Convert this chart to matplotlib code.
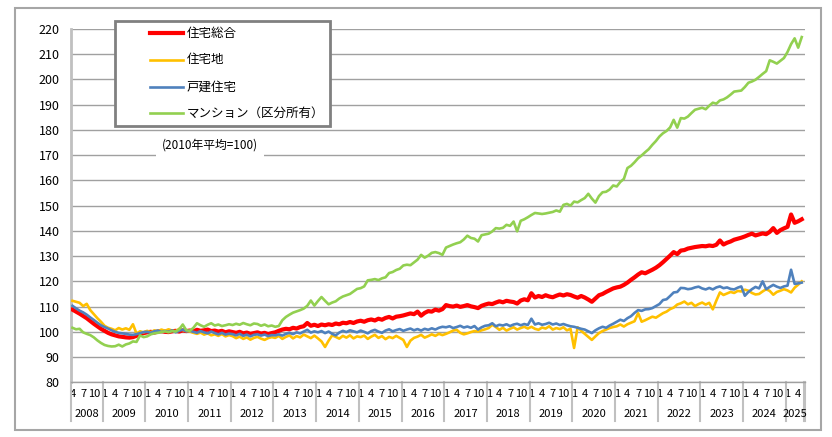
import matplotlib
matplotlib.use("Agg")
import matplotlib.pyplot as plt
from matplotlib.lines import Line2D
from matplotlib.patches import Rectangle
import matplotlib.transforms as mtransforms
import pandas as pd

plt.rcParams['font.family'] = ['Noto Sans CJK JP', 'DejaVu Sans']

# monthly index, 2010 average = 100 (Apr 2008 - May 2025)
months = pd.period_range('2008-04', '2025-05', freq='M')

sogo = [  # 住宅総合
    108.8, 108.0, 107.2, 106.3, 105.4, 104.3, 103.2, 102.2, 101.2,
    100.4, 99.6, 99.0, 98.6, 98.2, 98.0, 97.8, 97.7, 97.9, 98.4, 99.0, 99.5,
    99.8, 100.0, 99.7, 100.1, 100.3, 100.0, 99.9, 100.2, 100.4, 100.1, 100.6, 100.3,
    100.5, 100.2, 100.8, 100.4, 100.6, 100.9, 100.3, 100.5, 100.1, 100.4, 99.8, 100.2,
    99.9, 99.6, 100.0, 99.4, 99.7, 99.2, 99.5, 99.8, 99.3, 99.6, 99.1, 99.5,
    99.8, 100.4, 100.9, 101.2, 101.0, 101.6, 101.3, 101.9, 102.2, 103.5, 102.4, 102.8,
    102.3, 102.9, 102.6, 103.0, 102.7, 103.3, 103.0, 103.6, 103.4, 103.9, 103.5, 104.1,
    104.4, 104.0, 104.6, 104.9, 104.5, 105.2, 104.8, 105.5, 105.9, 105.3, 106.0, 106.2,
    106.5, 106.9, 107.3, 107.0, 108.0, 106.4, 107.5, 108.2, 108.0, 108.8, 108.4, 109.0,
    110.6, 110.2, 110.0, 110.4, 109.9, 110.2, 110.6, 110.1, 109.8, 109.4, 110.3, 110.8,
    111.2, 111.0, 111.6, 112.1, 111.7, 112.3, 112.0, 111.8, 111.2, 112.4, 112.9, 112.5,
    115.3, 113.6, 114.2, 113.8, 114.5, 114.0, 113.7, 114.3, 114.8, 114.4, 114.9, 114.6,
    114.0, 113.5, 114.2, 113.6, 112.8, 111.9, 113.2, 114.5, 115.0, 115.8, 116.5, 117.2,
    117.6, 117.9, 118.6, 119.5, 120.6, 121.6, 122.7, 123.6, 123.2, 123.9, 124.6, 125.4,
    126.4, 127.6, 128.9, 130.2, 131.6, 130.8, 132.2, 132.4, 133.0, 133.3, 133.6, 133.8,
    134.0, 133.9, 134.2, 134.0, 134.5, 136.2, 134.6, 135.3, 135.8, 136.5, 136.9, 137.3,
    137.8, 138.4, 138.9, 138.2, 138.6, 139.0, 138.7, 139.6, 141.1, 139.2, 140.3, 141.0,
    141.6, 146.5, 143.2, 143.8, 144.6,
]

takuchi = [  # 住宅地
    112.3, 111.9, 111.5, 110.2, 111.1, 108.6, 107.0, 105.4, 104.0,
    102.4, 101.6, 101.2, 100.6, 101.5, 100.9, 101.4, 100.8, 103.0, 99.3, 100.2, 99.8,
    100.4, 99.8, 100.6, 100.2, 100.9, 100.4, 101.0, 100.5, 100.2, 101.2, 100.7, 100.3,
    100.1, 99.6, 99.2, 99.7, 98.9, 99.4, 98.6, 99.0, 98.4, 99.1, 98.2, 98.7,
    98.3, 97.5, 98.1, 97.2, 97.8, 96.9, 97.6, 98.0, 97.3, 96.8, 97.5, 97.9,
    97.6, 98.4, 97.2, 98.0, 98.6, 97.4, 98.3, 97.8, 98.9, 98.2, 97.5, 98.5,
    97.4, 96.2, 94.0, 96.5, 98.6, 98.0, 97.3, 98.4, 97.7, 98.6, 97.4, 98.2,
    97.9, 98.5, 97.2, 98.1, 98.8, 97.6, 98.3, 97.1, 98.0, 97.5, 98.4, 97.6,
    96.8, 94.0, 96.5, 97.6, 98.1, 98.8, 97.7, 98.3, 99.0, 98.4, 99.2, 98.7,
    99.2, 99.8, 100.5, 100.8, 99.6, 99.0, 99.4, 99.9, 100.3, 100.1, 100.6, 101.0,
    101.5, 102.8, 101.9, 100.8, 101.6, 100.5, 101.2, 101.8, 100.9, 101.5, 102.0, 101.3,
    102.0, 101.2, 100.8, 101.7, 101.3, 102.2, 100.9, 101.5, 101.1, 101.8, 100.6, 101.2,
    93.6, 101.8, 100.4, 99.2, 98.0, 96.8, 98.2, 99.5, 100.3, 100.9, 101.5, 101.9,
    102.2, 102.9, 102.1, 103.0, 103.6, 104.2, 107.4, 104.0, 104.6, 105.3, 106.0, 105.6,
    106.5, 107.4, 108.0, 109.0, 109.6, 110.8, 111.3, 112.0, 110.9, 111.5, 110.2, 111.0,
    111.6, 110.8, 111.5, 108.9, 112.4, 115.6, 114.6, 115.2, 115.8, 115.4, 116.2, 116.0,
    116.7, 116.3, 115.4, 114.8, 115.0, 116.0, 116.9, 116.2, 114.7, 115.8, 116.3, 116.9,
    116.4, 115.6, 117.5, 118.7, 120.0,
]

kodate = [  # 戸建住宅
    110.3, 109.3, 108.4, 107.7, 106.8, 105.7, 104.7, 103.6, 102.6,
    101.9, 101.3, 100.6, 100.0, 99.6, 99.4, 99.2, 98.9, 98.8, 99.1, 99.5, 99.9,
    100.0, 99.6, 100.2, 100.5, 99.9, 100.3, 100.0, 100.6, 99.8, 100.4, 100.9, 100.2,
    100.4, 100.0, 99.6, 100.3, 99.8, 99.4, 100.1, 99.5, 99.0, 99.6, 98.9, 99.3,
    99.1, 98.6, 99.2, 98.4, 98.9, 98.2, 98.8, 99.0, 98.5, 98.9, 98.3, 98.7,
    98.6, 99.0, 98.5, 99.2, 99.6, 99.1, 99.8, 99.4, 100.1, 100.8, 99.7, 100.2,
    99.8, 100.3, 99.5, 100.1, 99.2, 98.6, 99.7, 100.4, 99.9, 100.6, 100.2, 99.8,
    100.5, 100.0, 99.4, 100.3, 100.8, 100.1, 99.6, 100.5, 101.0, 100.2, 100.7, 101.1,
    100.4, 100.9, 101.3, 100.6, 101.1, 100.5, 101.2, 100.8, 101.4, 100.9, 101.6, 102.0,
    101.8, 102.2, 101.5, 101.9, 102.4, 101.7, 102.1, 101.6, 102.3, 100.9, 101.8, 102.4,
    102.6, 103.4, 102.2, 102.8, 102.5, 103.0, 102.3, 102.9, 103.2, 102.6, 103.1, 102.7,
    105.2, 102.9, 103.4, 102.8, 103.1, 103.6, 102.9, 103.3, 102.7, 103.1, 102.6, 102.2,
    102.0, 101.6, 101.2, 100.9, 100.2, 99.5, 100.6, 101.4, 102.0, 101.6, 102.5, 103.2,
    104.0, 104.8, 104.3, 105.4, 106.2, 107.5, 108.6, 108.3, 108.9, 109.0, 109.4, 110.2,
    111.0, 112.6, 112.9, 114.2, 115.6, 115.8, 117.4, 117.3, 116.9, 117.1, 117.6, 117.9,
    117.2, 116.8, 117.4, 116.8, 117.6, 118.0, 117.3, 117.6, 117.0, 116.8, 117.5, 118.0,
    114.3, 115.8, 116.9, 117.8, 117.2, 120.0, 116.9, 117.8, 118.6, 117.9, 117.4, 118.0,
    118.3, 124.6, 119.0, 119.2, 119.5,
]

mansion = [  # マンション（区分所有）
    101.6, 101.0, 101.2, 99.8, 99.2, 98.7, 97.8, 96.6, 95.6,
    94.8, 94.4, 94.2, 94.3, 94.9, 94.2, 95.0, 95.4, 96.2, 96.0, 98.6, 97.9,
    98.2, 99.0, 99.4, 99.6, 99.9, 100.2, 99.8, 100.3, 100.1, 101.0, 102.9, 100.6,
    100.4, 101.6, 103.4, 102.6, 102.0, 102.8, 103.4, 102.5, 102.9, 102.3, 102.6, 103.0,
    102.7, 103.2, 102.8, 103.5, 103.0, 102.6, 103.3, 103.1, 102.4, 102.9, 102.2, 102.5,
    102.0, 102.3, 104.6, 105.9, 106.8, 107.6, 108.1, 108.6, 109.2, 110.3, 112.4, 110.4,
    112.2, 113.8, 112.3, 110.9, 111.6, 112.1, 113.2, 114.0, 114.5, 115.0, 116.0, 117.0,
    117.3, 118.0, 120.4, 120.6, 120.9, 120.5, 121.2, 121.6, 123.3, 123.7, 124.5, 125.0,
    126.3, 126.6, 126.4, 127.5, 128.6, 130.5, 129.4, 130.2, 131.3, 131.6, 131.2, 130.5,
    133.4, 134.0, 134.6, 135.1, 135.5, 136.6, 138.1, 137.2, 136.9, 135.8, 138.3, 138.6,
    138.9, 139.8, 141.1, 140.9, 141.2, 142.4, 142.0, 143.7, 139.8, 144.0, 144.6, 145.4,
    146.3, 147.1, 146.9, 146.7, 146.9, 147.2, 147.5, 148.1, 147.6, 150.3, 150.7, 150.0,
    151.6, 151.3, 152.2, 153.0, 154.7, 152.8, 151.2, 153.8, 155.3, 155.5, 156.4, 158.0,
    157.6, 159.4, 160.6, 164.9, 165.8, 167.2, 168.8, 169.9, 171.2, 172.4, 174.1, 175.6,
    177.4, 178.7, 179.6, 181.0, 184.0, 180.9, 184.7, 184.5, 185.3, 186.7, 188.0, 188.4,
    188.8, 188.2, 189.6, 190.8, 190.4, 191.7, 192.1, 192.9, 194.0, 195.2, 195.4, 195.6,
    197.0, 198.7, 199.2, 199.9, 201.0, 202.2, 203.3, 207.6, 207.0, 206.3, 207.4, 208.5,
    210.9, 214.0, 216.3, 212.6, 216.8,
]

labels = ['住宅総合', '住宅地', '戸建住宅', 'マンション（区分所有）']
colors = ['#ff0000', '#ffc000', '#4f81bd', '#92d050']
widths = [3.0, 1.9, 1.9, 1.9]

W, H = 832, 437


def fx(x):
    return x / W


def fy(y):
    return 1 - y / H


fig = plt.figure(figsize=(W / 100, H / 100), dpi=100)
ax = fig.add_axes([fx(70.7), fy(382.3), (805.3 - 70.7) / W, (382.3 - 29) / H])

x = list(range(len(months)))
for vals, col, lw in zip([sogo, takuchi, kodate, mansion], colors, widths):
    ax.plot(x, vals, color=col, lw=lw, solid_joinstyle='round', zorder=3)

ax.set_ylim(80, 220)
ax.set_xlim(-0.5, 206)
ax.set_yticks(range(80, 221, 10))
ax.yaxis.grid(True, color='#a0a0a0', lw=1)
ax.set_axisbelow(True)
ax.tick_params(axis='y', length=0, pad=8, labelsize=9)
for s in ['top', 'right']:
    ax.spines[s].set_visible(False)
ax.spines['left'].set_color('#c0c0c0')
ax.spines['left'].set_linewidth(2)
ax.spines['bottom'].set_color('#a0a0a0')
ax.spines['bottom'].set_linewidth(1)

# month ticks (1, 4, 7, 10) and year groups
tick_pos = [i for i, m in enumerate(months) if m.month in (1, 4, 7, 10)]
ax.set_xticks(tick_pos)
ax.set_xticklabels([str(months[i].month) for i in tick_pos])
ax.tick_params(axis='x', length=0, pad=5, labelsize=8)

trans = mtransforms.blended_transform_factory(ax.transData, ax.transAxes)
years = sorted(set(m.year for m in months))
bounds = [-0.5]
for yr in years:
    idx = [i for i, m in enumerate(months) if m.year == yr]
    ax.text((idx[0] + idx[-1]) / 2, -0.09, str(yr), transform=trans,
            ha='center', va='center', fontsize=8)
    bounds.append(idx[-1] + 0.5)
bounds.append(206)
for b in bounds:
    ax.add_line(Line2D([b, b], [0, -0.11], transform=trans, color='#c0c0c0',
                       lw=1.5, clip_on=False))

# outer frame
fig.add_artist(Rectangle((fx(15), fy(430)), (821 - 15) / W, (430 - 8) / H,
                         transform=fig.transFigure, fill=False,
                         edgecolor='#a6a6a6', lw=1.5))

# legend box
fig.add_artist(Rectangle((fx(115), fy(126)), (330 - 115) / W, (126 - 21) / H,
                         transform=fig.transFigure, facecolor='white',
                         edgecolor='#808080', lw=2, zorder=5))
rows = [33, 60, 87, 113]
for lab, col, lw, ry in zip(labels, colors, widths, rows):
    fig.add_artist(Line2D([fx(150), fx(183)], [fy(ry), fy(ry)],
                          transform=fig.transFigure, color=col, lw=lw,
                          zorder=6))
    fig.text(fx(187), fy(ry), lab, ha='left', va='center', fontsize=9,
             zorder=6)

fig.text(fx(210), fy(145), '(2010年平均=100)', ha='center', va='center',
         fontsize=8.5, zorder=6,
         bbox=dict(facecolor='white', edgecolor='none', pad=4))

fig.savefig('out.png', dpi=100)
